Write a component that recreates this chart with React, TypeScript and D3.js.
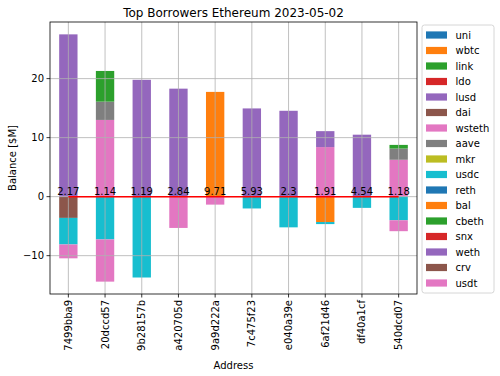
import React from "react";
import * as d3 from "d3";

const addresses = ["7499bba9", "20dccd57", "9b28157b", "a420705d", "9a9d222a", "7c475f23", "e040a39e", "6af21d46", "df40a1cf", "540dcd07"];
const healthFactors = ["2.17", "1.14", "1.19", "2.84", "9.71", "5.93", "2.3", "1.91", "4.54", "1.18"];

const tokens = ["uni", "wbtc", "link", "ldo", "lusd", "dai", "wsteth", "aave", "mkr", "usdc", "reth", "bal", "cbeth", "snx", "weth", "crv", "usdt"];
const tokenColors = ["#1f77b4", "#ff7f0e", "#2ca02c", "#d62728", "#9467bd", "#8c564b", "#e377c2", "#7f7f7f", "#bcbd22", "#17becf", "#1f77b4", "#ff7f0e", "#2ca02c", "#d62728", "#9467bd", "#8c564b", "#e377c2"];

const uni = [0, 0, 0, 0, 0, 0, 0, 0, 0, 0];
const wbtc = [0, 0, 0, 0, 17.75, 0, 0, -4.3, 0, 0];
const link = [0, 0, 0, 0, 0, 0, 0, 0, 0, 0];
const ldo = [0, 0, 0, 0, 0, 0, 0, 0, 0, 0];
const lusd = [0, 0, 0, 0, 0, 0, 0, 0, 0, 0];
const dai = [-3.6, 0, 0, 0, 0, 0, 0, 0, 0, 0];
const wsteth = [0, 13.0, 0, 0, 0, 0, 0, 8.4, 0, 6.25];
const aave = [0, 3.1, 0, 0, 0, 0, 0, 0, 0, 1.9];
const mkr = [0, 0, 0, 0, 0, 0, 0, 0, 0, 0];
const usdc = [-4.5, -7.25, -13.7, 0, 0, -2.0, -5.2, -0.35, -1.9, -4.0];
const reth = [0, 0, 0, 0, 0, 0, 0, 0, 0, 0];
const bal = [0, 0, 0, 0, 0, 0, 0, 0, 0, 0];
const cbeth = [0, 5.2, 0, 0, 0, 0, 0, 0, 0, 0.62];
const snx = [0, 0, 0, 0, 0, 0, 0, 0, 0, 0];
const weth = [27.5, 0, 19.8, 18.3, 0, 14.95, 14.55, 2.7, 10.5, 0];
const crv = [0, 0, 0, 0, 0, 0, 0, 0, 0, 0];
const usdt = [-2.35, -7.15, 0, -5.3, -1.35, 0, 0, 0, 0, -1.85];

const seriesValues = [uni, wbtc, link, ldo, lusd, dai, wsteth, aave, mkr, usdc, reth, bal, cbeth, snx, weth, crv, usdt];

const W = 500, H = 376;
const M = { left: 50, right: 417, top: 22, bottom: 294 };
const FONT = "DejaVu Sans, sans-serif";

export default function App() {
  const rows = addresses.map((a, i) => {
    const r: any = { address: a };
    tokens.forEach((t, k) => (r[t] = seriesValues[k][i]));
    return r;
  });
  const stack = d3.stack<any>().keys(tokens).offset(d3.stackOffsetDiverging);
  const stacked = stack(rows);

  const x = d3.scaleBand<string>().domain(addresses).range([M.left, M.right]).paddingInner(0.5).paddingOuter(0.25);
  const lo = d3.min(stacked, (s) => d3.min(s, (d) => d[0])) as number;
  const hi = d3.max(stacked, (s) => d3.max(s, (d) => d[1])) as number;
  const pad = (hi - lo) * 0.05;
  const y = d3.scaleLinear().domain([lo - pad, hi + pad]).range([M.bottom, M.top]);
  const yTicks = y.ticks(4);
  const cx = (a: string) => (x(a) as number) + x.bandwidth() / 2;
  const fmt = (v: number) => (v < 0 ? "\u2212" + Math.abs(v) : String(v));

  const legTop = 25, legStep = 15.5;

  return (
    <svg width={W} height={H} style={{ position: "absolute", left: 0, top: 0, fontFamily: FONT }}>
      <rect width={W} height={H} fill="white" />
      {/* bars */}
      {stacked.map((s, k) => (
        <g key={s.key} fill={tokenColors[k]}>
          {s.map((d, i) =>
            d[1] - d[0] !== 0 ? (
              <rect key={i} x={x(addresses[i])} width={x.bandwidth()} y={y(Math.max(d[0], d[1]))} height={Math.abs(y(d[0]) - y(d[1]))} />
            ) : null
          )}
        </g>
      ))}
      {/* grid (above patches, like matplotlib) */}
      {addresses.map((a) => (
        <line key={"gx" + a} x1={cx(a)} x2={cx(a)} y1={M.top} y2={M.bottom} stroke="#b0b0b0" strokeWidth={0.8} />
      ))}
      {yTicks.map((t) => (
        <line key={"gy" + t} x1={M.left} x2={M.right} y1={y(t)} y2={y(t)} stroke="#b0b0b0" strokeWidth={0.8} />
      ))}
      {/* zero line */}
      <line x1={cx(addresses[0])} x2={cx(addresses[addresses.length - 1])} y1={y(0)} y2={y(0)} stroke="red" strokeWidth={1.5} />
      {addresses.map((a, i) => (
        <text key={"hf" + a} x={cx(a)} y={y(0) - 2} textAnchor="middle" fontSize={10} fill="black">
          {healthFactors[i]}
        </text>
      ))}
      {/* frame */}
      <rect x={M.left} y={M.top} width={M.right - M.left} height={M.bottom - M.top} fill="none" stroke="black" strokeWidth={0.8} />
      {/* y ticks */}
      {yTicks.map((t) => (
        <g key={"yt" + t}>
          <line x1={M.left - 3.5} x2={M.left} y1={y(t)} y2={y(t)} stroke="black" strokeWidth={0.8} />
          <text x={M.left - 6} y={y(t)} dy="0.35em" textAnchor="end" fontSize={10}>
            {fmt(t)}
          </text>
        </g>
      ))}
      {/* x ticks */}
      {addresses.map((a) => (
        <g key={"xt" + a}>
          <line x1={cx(a)} x2={cx(a)} y1={M.bottom} y2={M.bottom + 3.5} stroke="black" strokeWidth={0.8} />
          <text transform={`translate(${cx(a)},${M.bottom + 6}) rotate(-90)`} textAnchor="end" dy="0.35em" fontSize={10}>
            {a}
          </text>
        </g>
      ))}
      <text x={(M.left + M.right) / 2} y={369} textAnchor="middle" fontSize={10}>Address</text>
      <text transform={`translate(16,${(M.top + M.bottom) / 2}) rotate(-90)`} textAnchor="middle" fontSize={10}>
        Balance [$M]
      </text>
      <text x={(M.left + M.right) / 2} y={17} textAnchor="middle" fontSize={12}>
        Top Borrowers Ethereum 2023-05-02
      </text>
      {/* legend */}
      <rect x={422} y={legTop} width={72} height={268} rx={2.5} fill="white" fillOpacity={0.8} stroke="#cccccc" strokeWidth={0.8} />
      {tokens.map((t, k) => (
        <g key={"lg" + t}>
          <rect x={426} y={legTop + 10 + k * legStep - 3.6} width={21} height={7.2} fill={tokenColors[k]} />
          <text x={455.5} y={legTop + 10 + k * legStep} dy="0.35em" fontSize={10}>
            {t}
          </text>
        </g>
      ))}
    </svg>
  );
}
